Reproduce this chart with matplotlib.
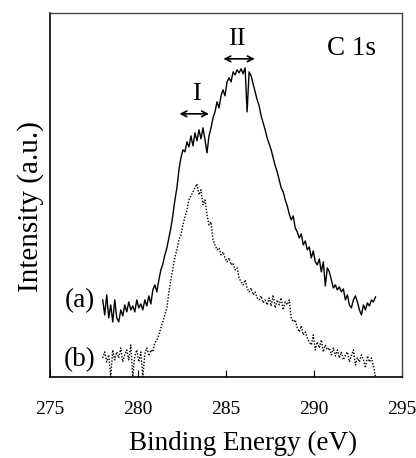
import numpy as np
import matplotlib
matplotlib.use("Agg")
import matplotlib.pyplot as plt

plt.rcParams['font.family'] = ['Liberation Serif', 'DejaVu Serif']

# C 1s spectra, intensity in arbitrary units
intensity_a = [
    77, 62, 82, 59, 72, 55, 77, 59, 55, 67, 61, 72, 65, 75, 67, 71, 65, 77, 69, 73,
    67, 77, 71, 81, 73, 87, 92, 85, 97, 107, 113, 122, 129, 139, 149, 162, 177, 189, 207, 219,
    227, 225, 235, 230, 241, 231, 244, 236, 247, 238, 249, 237, 224, 241, 249, 259, 265, 275, 269, 281,
    287, 281, 295, 299, 295, 305, 302, 307, 304, 308, 303, 309, 265, 305, 301, 293, 285, 277, 271, 261,
    254, 247, 239, 233, 227, 219, 211, 205, 197, 189, 185, 177, 171, 163, 157, 161, 149, 145, 139, 143,
    132, 136, 127, 130, 119, 126, 115, 112, 118, 105, 115, 91, 109, 105, 97, 89, 92, 87, 90, 85,
    88, 77, 82, 72, 69, 77, 81, 75, 67, 62, 72, 67, 74, 71, 77, 75, 80,
]
intensity_b = [
    19, 25, 15, 22, 0, 27, 17, 25, 19, 29, 15, 22, 27, 17, 32, 0, 21, 27, 15, 25,
    0, 23, 29, 21, 27, 25, 34, 37, 42, 49, 55, 62, 69, 85, 97, 109, 120, 127, 137, 142,
    152, 160, 167, 177, 181, 185, 189, 193, 182, 187, 172, 177, 162, 152, 155, 137, 132, 127, 129, 122,
    125, 119, 115, 119, 112, 114, 107, 109, 99, 95, 92, 97, 89, 85, 89, 82, 85, 79, 77, 81,
    74, 77, 72, 79, 71, 82, 69, 77, 72, 79, 67, 75, 72, 77, 59, 55, 57, 49, 45, 51,
    42, 45, 39, 35, 32, 42, 27, 35, 29, 37, 25, 32, 27, 29, 22, 29, 21, 27, 19, 25,
    17, 22, 25, 15, 21, 27, 12, 19, 15, 22, 17, 9, 21, 15, 19, 11, 0,
]
energy_a = np.linspace(278.0, 293.5, len(intensity_a))
energy_b = np.linspace(278.0, 293.5, len(intensity_b))

x_ticks = [275, 280, 285, 290, 295]

fig = plt.figure(figsize=(4.16, 4.58), dpi=100)
ax = fig.add_axes([0.120, 0.177, 0.846, 0.795])

ax.plot(energy_a, intensity_a, color='black', linewidth=1.0)
ax.plot(energy_b, intensity_b, color='black', linewidth=1.0, linestyle=(0, (1, 1.2)))

ax.set_xlim(275, 295)
ax.set_ylim(0, 364)
ax.set_xticks(x_ticks)
ax.set_yticks([])
ax.tick_params(axis='x', direction='in', length=5, width=0.8, pad=17, labelsize=14)

for side in ['left', 'bottom']:
    ax.spines[side].set_linewidth(1.2)
for side in ['top', 'right']:
    ax.spines[side].set_linewidth(1.0)
    ax.spines[side].set_color('#444444')

ax.set_xlabel("Binding Energy (eV)", fontsize=19.5)
ax.set_ylabel("Intensity (a.u.)", fontsize=21)
ax.xaxis.set_label_coords(0.548, -0.148)
ax.yaxis.set_label_coords(-0.016, 0.467)

# peak annotations
ax.annotate('', xy=(282.2, 263), xytext=(284.2, 263),
            arrowprops=dict(arrowstyle='<->', color='black', lw=1.2))
ax.annotate('', xy=(284.7, 318), xytext=(286.8, 318),
            arrowprops=dict(arrowstyle='<->', color='black', lw=1.2))
ax.text(283.35, 277, 'I', fontsize=19, ha='center', va='baseline')
ax.text(285.65, 332, 'II', fontsize=19, ha='center', va='baseline')
ax.text(292.15, 322, 'C 1s', fontsize=19.5, ha='center', va='baseline')
ax.text(276.7, 70, '(a)', fontsize=19.5, ha='center', va='baseline')
ax.text(276.7, 11, '(b)', fontsize=19.5, ha='center', va='baseline')

fig.savefig('out.png', dpi=100)
